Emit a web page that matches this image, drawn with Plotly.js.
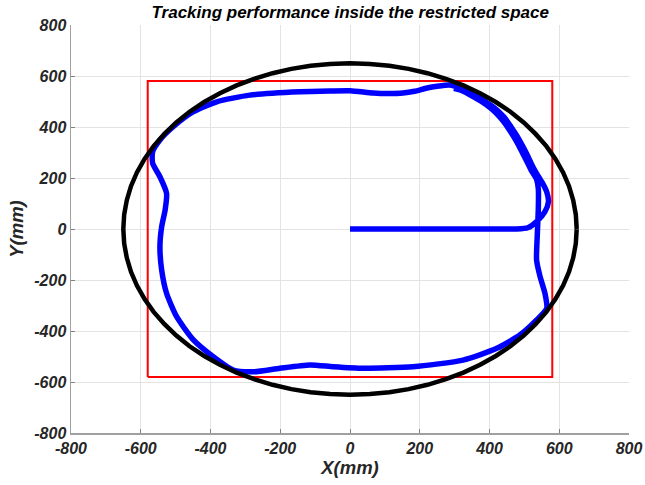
<!DOCTYPE html>
<html>
<head>
<meta charset="utf-8">
<script src="https://cdn.plot.ly/plotly-3.0.1.min.js"></script>
<style>html,body{margin:0;padding:0;background:#fff;}#chart{width:645px;height:485px;}</style>
</head>
<body>
<div id="chart"></div>
<script>
// Restricted space (red square)
const boundX = [-580, 580, 580, -580, -580];
const boundY = [-580, -580, 580, 580, -580];

// Reference circle (black), radius ~650
const circleX = [650, 647.5, 640, 628, 611, 589, 563, 532, 498, 460, 418, 373, 325, 275, 222, 168, 113, 57, 0,
                 -57, -113, -168, -222, -275, -325, -373, -418, -460, -498, -532, -563, -589, -611, -628, -640, -647.5, -650,
                 -647.5, -640, -628, -611, -589, -563, -532, -498, -460, -418, -373, -325, -275, -222, -168, -113, -57, 0,
                 57, 113, 168, 222, 275, 325, 373, 418, 460, 498, 532, 563, 589, 611, 628, 640, 647.5, 650];
const circleY = [0, 57, 113, 168, 222, 275, 325, 373, 418, 460, 498, 532, 563, 589, 611, 628, 640, 647.5, 650,
                 647.5, 640, 628, 611, 589, 563, 532, 498, 460, 418, 373, 325, 275, 222, 168, 113, 57, 0,
                 -57, -113, -168, -222, -275, -325, -373, -418, -460, -498, -532, -563, -589, -611, -628, -640, -647.5, -650,
                 -647.5, -640, -628, -611, -589, -563, -532, -498, -460, -418, -373, -325, -275, -222, -168, -113, -57, 0];

// Tracked trajectory (blue)
const trackX = [0, 100, 200, 300, 400, 478, 510, 535, 559, 569, 564, 552, 536, 522, 510, 495, 480, 462, 441, 414, 384, 343, 305, 287,
                250, 221, 185, 152, 110, 66, 0, -57, -143, -287, -382, -449, -507, -545, -566, -566, -545, -526, -530, -540, -545,
                -540, -526, -497, -449, -392, -335, -277, -201, -115, -48, 38, 181, 324, 421, 487, 535, 564,
                559, 545, 535, 537, 540, 540, 535, 519, 506, 494, 479, 461, 441, 419, 390, 357, 316, 298];
const trackY = [0, 0, 0, 0, 0, 0, 5, 29, 68, 107, 146, 180, 215, 250, 285, 325, 362, 400, 440, 475, 503, 535, 558, 565,
                560, 553, 540, 533, 531, 533, 542, 541, 538, 525, 499, 460, 401, 349, 303, 258, 205, 140, 75, 9, -69,
                -161, -252, -344, -435, -501, -553, -560, -546, -533, -540, -546, -540, -514, -468, -416, -357, -311,
                -252, -187, -122, -24, 81, 157, 195, 232, 268, 300, 340, 380, 420, 455, 488, 516, 545, 552];

const xTicks = [-800, -600, -400, -200, 0, 200, 400, 600, 800];
const yTicks = [-800, -600, -400, -200, 0, 200, 400, 600, 800];

const traces = [
  {x: boundX, y: boundY, mode: 'lines', line: {color: '#ff0000', width: 2}, hoverinfo: 'skip'},
  {x: trackX, y: trackY, mode: 'lines', line: {color: '#0000ff', width: 5.5, shape: 'spline', smoothing: 0.6}, hoverinfo: 'skip'},
  {x: circleX, y: circleY, mode: 'lines', line: {color: '#000000', width: 4.5}, hoverinfo: 'skip'}
];

const FAM = 'Liberation Sans, Arial, sans-serif';
const tickFont = {family: FAM, size: 16, color: '#262626', weight: 'bold', style: 'italic'};
const axisCommon = {
  range: [-800, 800],
  showgrid: true, gridcolor: '#e3e3e3', gridwidth: 1,
  zeroline: false,
  showline: true, linecolor: '#a0a0a0', linewidth: 1.5,
  ticks: 'inside', ticklen: 4, tickcolor: '#808080', tickwidth: 1,
  tickfont: tickFont,
  mirror: false
};

const layout = {
  width: 645, height: 485,
  margin: {l: 71, r: 16, t: 25, b: 52},
  paper_bgcolor: '#ffffff', plot_bgcolor: '#ffffff',
  showlegend: false,
  title: {
    text: 'Tracking performance inside the restricted space',
    font: {family: FAM, size: 17, color: '#000000', weight: 'bold', style: 'italic'},
    x: 0.543, xanchor: 'center', y: 0.975, yanchor: 'middle'
  },
  xaxis: Object.assign({}, axisCommon, {
    tickvals: xTicks, ticktext: xTicks.map(String),
    title: {text: 'X(mm)', standoff: 2, font: {family: FAM, size: 18.5, color: '#262626', weight: 'bold', style: 'italic'}}
  }),
  yaxis: Object.assign({}, axisCommon, {
    tickvals: yTicks, ticktext: yTicks.map(String),
    title: {text: 'Y(mm)', standoff: 6, font: {family: FAM, size: 18.5, color: '#262626', weight: 'bold', style: 'italic'}}
  })
};

Plotly.newPlot('chart', traces, layout, {displayModeBar: false, staticPlot: true});
</script>
</body>
</html>
